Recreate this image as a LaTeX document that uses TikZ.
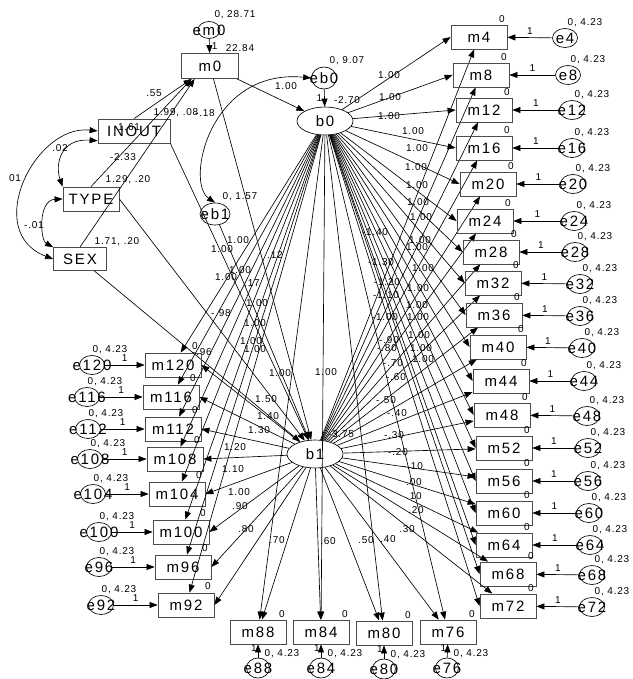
\documentclass[tikz,border=0pt]{standalone}
\usepackage{fontspec}
\setmainfont{Liberation Sans}
\newfontfamily\amosbig[LetterSpace=12]{Liberation Sans}
\newfontfamily\amossmall[LetterSpace=8]{Liberation Sans}
\usetikzlibrary{arrows.meta,shapes.geometric}

\newcommand{\amosvar}{\amosbig\fontsize{15}{15}\selectfont}
\newcommand{\amosnum}{\amossmall\fontsize{10}{10}\selectfont}

\tikzset{
  obsbox/.style={draw=black!70, line width=0.8pt, minimum width=56pt, minimum height=24pt, inner sep=0pt, font=\amosvar},
  latent/.style={draw, ellipse, minimum width=56pt, minimum height=28pt, inner sep=0pt, font=\amosvar},
  errnode/.style={draw, ellipse, minimum width=25pt, minimum height=19pt, inner sep=0pt},
  est/.style={font=\amosnum, inner sep=0pt},
  reg/.style={-{Triangle[length=8pt,width=6pt]}},
  cov/.style={{Triangle[length=8pt,width=6pt]}-{Triangle[length=8pt,width=6pt]}},
  every label/.style={font=\amosvar, inner sep=0pt},
}

\begin{document}
\begin{tikzpicture}[x=1pt, y=-1pt, line width=0.65pt]
\useasboundingbox (0,0) rectangle (632,679);

% Initial measure and covariates
\node[obsbox, minimum width=57pt, minimum height=25pt] (m0) at (210,66) {m0};
\node[errnode, minimum width=22pt, minimum height=17pt, label=center:em0] (em0) at (209,30) {};
\node[obsbox, minimum width=72pt] (inout) at (134,131) {INOUT};
\node[obsbox] (type) at (91,199) {TYPE};
\node[obsbox, minimum width=53pt, minimum height=23pt] (sex) at (80,259) {SEX};

% Growth factors
\node[latent] (b0) at (325,121) {b0};
\node[latent] (b1) at (315,454) {b1};
\node[errnode, minimum width=25pt, minimum height=22pt, label=center:eb0] (eb0) at (324,78) {};
\node[errnode, minimum width=30pt, minimum height=22pt, label=center:eb1] (eb1) at (215,214) {};

\draw[reg] (em0) -- node[est, right=2pt]{1} (m0);
\draw[reg] (eb0) -- node[est, left=2pt]{1} (b0);
\draw[reg] (eb1) -- (b1);
\draw[reg] (m0) -- (b0);
\draw[reg] (m0) -- (b1);
\draw[reg] (inout.north) -- (m0.215);
\draw[reg] (type.north) -- (m0.215);
\draw[reg] (sex.north) -- (m0.220);
\draw[reg] (inout.south east) -- (b1);
\draw[reg] (type.east) -- (b1);
\draw[reg] (sex) -- (b1);

% Covariances
\draw[cov] (inout.west) .. controls (35,124) and (-18,232) .. (sex.west);
\draw[cov] (inout.195) .. controls (60,138) and (55,165) .. (type.north west);
\draw[cov] (type.west) .. controls (38,200) and (40,240) .. (sex.north west);
\draw[cov] (eb0.west) .. controls (210,68) and (185,182) .. (eb1.north);

% Estimates, top part
\node[est] at (235,15) {0, 28.71};
\node[est] at (240,48) {22.84};
\node[est] at (347,61) {0, 9.07};
\node[est] at (347,100) {-2.70};
\node[est] at (240,197) {0, 1.57};
\node[est] at (341,434) {-3.75};
\node[est] at (286,86) {1.00};
\node[est] at (154,93) {.55};
\node[est] at (129,127) {1.61};
\node[est] at (123,157) {-2.33};
\node[est] at (176,113) {1.99, .08};
\node[est] at (205,113) {-.18};
\node[est] at (128,180) {1.29, .20};
\node[est] at (117,242) {1.71, .20};
\node[est] at (275,255) {.12};
\node[est] at (252,283) {.17};
\node[est] at (221,313) {-.98};
\node[est] at (202,352) {-.96};
\node[est] at (60,148) {.02};
\node[est] at (15,178) {01};
\node[est] at (34,225) {-.01};

% Right column
\foreach \t/\mx/\my/\ex/\ey/\ld/\lx/\ly/\ox/\oy in {
  4/479/37/565/38/-1.40/375/232/389/75,
  8/481/75/568/75/-1.30/381/262/390/97,
  12/484/110/572/110/-1.20/387/282/389/116,
  16/484/148/572/148/-1.10/386/295/413/131,
  20/488/184/573/184/-1.00/385/317/417/148,
  24/485/221/574/221/-.90/389/340/416/167,
  28/491/252/575/252/-.80/387/348/417/185,
  32/493/283/580/284/-.70/393/363/418/202,
  36/494/315/580/316/-.60/396/377/421/217,
  40/498/347/582/348/-.50/386/400/420/240,
  44/501/381/584/381/-.40/397/413/417/247,
  48/502/415/587/416/-.30/394/435/423/268,
  52/504/448/588/448/-.20/398/452/418/288,
  56/504/481/588/481/-.10/413/466/417/305,
  60/504/513/589/513/.00/414/482/418/317,
  64/504/545/590/545/.10/414/496/419/335,
  68/508/574/592/575/.20/416/510/421/348,
  72/508/606/592/607/.30/407/529/423/359}{
  \node[obsbox] (m\t) at (\mx,\my) {m\t};
  \node[errnode, label=center:e\t] (e\t) at (\ex,\ey) {};
  \node[est] at (\mx+23,\my-18) {0};
  \node[est] at (\ex+20,\ey-15) {0, 4.23};
  \draw[reg] (e\t) -- node[est, above=3pt]{1} (m\t);
  \draw[reg] (b0) -- (m\t.west);
  \draw[reg] (b1) -- (m\t);
  \node[est] at (\ox,\oy) {1.00};
  \node[est] at (\lx,\ly) {\ld};
}

% Left column
\foreach \t/\mx/\my/\ex/\ey/\ld/\lx/\ly/\ox/\oy in {
  120/173/365/92/365/1.50/266/399/238/240,
  116/171/397/87/397/1.40/268/416/222/249,
  112/173/429/88/429/1.30/259/430/226/277,
  108/175/459/90/459/1.20/235/447/240/270,
  104/177/494/93/494/1.10/233/469/257/303,
  100/181/532/99/532/1.00/239/492/255/323,
  96/183/567/99/567/.90/240/506/251/341,
  92/186/605/101/605/.80/246/529/255/349}{
  \node[obsbox] (m\t) at (\mx,\my) {m\t};
  \node[errnode, label=center:e\t] (e\t) at (\ex,\ey) {};
  \node[est] at (\mx+22,\my-19) {0};
  \node[est] at (\ex+18,\ey-15) {0, 4.23};
  \draw[reg] (e\t) -- node[est, above=3pt]{1} (m\t);
  \draw[reg] (b0) -- (m\t);
  \draw[reg] (b1) -- (m\t.east);
  \node[est] at (\ox,\oy) {1.00};
  \node[est] at (\lx,\ly) {\ld};
}

% Bottom row
\foreach \t/\mx/\my/\ex/\ey/\ld/\lx/\ly/\ox/\oy/\ot in {
  88/258/632/258/668/.70/277/540/280/373/1.00,
  84/321/632/321/668/.60/328/541/326/372/1.00,
  80/384/633/384/669/.50/366/540/0/0/{},
  76/448/632/447/668/.40/388/539/0/0/{}}{
  \node[obsbox] (m\t) at (\mx,\my) {m\t};
  \node[errnode, minimum width=23pt, minimum height=20pt, label=center:e\t] (e\t) at (\ex,\ey) {};
  \node[est] at (\mx+24,\my-18) {0};
  \node[est] at (\ex+24,\ey-14) {0, 4.23};
  \draw[reg] (e\t) -- node[est, left=1pt, pos=0.7]{1} (m\t);
  \draw[reg] (b0) -- (m\t);
  \draw[reg] (b1) -- (m\t);
  \node[est] at (\ox,\oy) {\ot};
  \node[est] at (\lx,\ly) {\ld};
}

\end{tikzpicture}
\end{document}
